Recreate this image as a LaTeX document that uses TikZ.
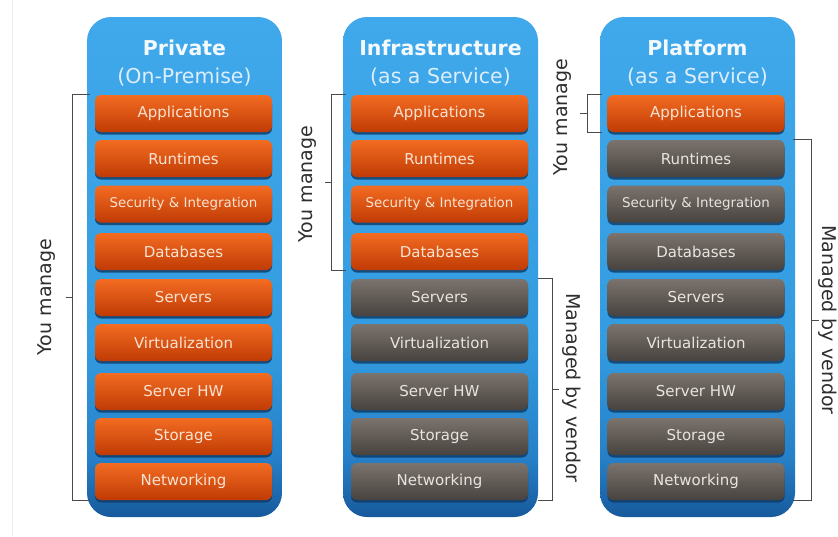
\documentclass[tikz,border=0pt]{standalone}
\usepackage{fontspec}
\setmainfont{DejaVu Sans}
\usetikzlibrary{shadows}
\definecolor{orTop}{HTML}{F36C22}
\definecolor{orBot}{HTML}{C03B05}
\definecolor{orText}{HTML}{FAE3D2}
\definecolor{grTop}{HTML}{7B736D}
\definecolor{grBot}{HTML}{48433F}
\definecolor{grText}{HTML}{E8E4E0}
\definecolor{bTop}{HTML}{40A9EB}
\definecolor{bLight}{HTML}{339BDF}
\definecolor{bMid}{HTML}{2680C8}
\definecolor{bDark}{HTML}{175A9C}
\definecolor{shadowc}{HTML}{0D3A66}
\definecolor{titleText}{HTML}{F3F9FD}
\definecolor{subText}{HTML}{DDEEFA}
\definecolor{lblText}{HTML}{2E2E2E}
\definecolor{brkc}{HTML}{4A4A4A}
\pgfdeclareverticalshading{bluecol}{100bp}{color(0bp)=(bDark); color(25bp)=(bDark); color(31bp)=(bMid); color(42bp)=(bLight); color(75bp)=(bTop); color(100bp)=(bTop)}
\begin{document}
\begin{tikzpicture}[x=1pt,y=-1pt,
  colbox/.style={shade, shading=bluecol, minimum width=195pt, minimum height=500pt, rounded corners=24pt, inner sep=0pt},
  layer/.style={minimum width=177pt, minimum height=37pt, rounded corners=6pt, inner sep=0pt,
    font=\fontsize{15}{15}\selectfont,
    drop shadow={shadow xshift=0pt, shadow yshift=-2.5pt, fill=shadowc, opacity=0.8}},
  obox/.style={layer, top color=orTop, bottom color=orBot, text=orText},
  gbox/.style={layer, top color=grTop, bottom color=grBot, text=grText},
  small/.style={font=\fontsize{13.4}{13.4}\selectfont},
  title/.style={anchor=base, text=titleText, font=\fontsize{20.5}{20.5}\selectfont\bfseries},
  subtitle/.style={anchor=base, text=subText, font=\fontsize{20.5}{20.5}\selectfont},
  brk/.style={draw=brkc, line width=0.8pt},
  lbl/.style={text=lblText, font=\fontsize{19}{19}\selectfont}
]
\useasboundingbox (0,0) rectangle (838,536);
\fill[white] (0,0) rectangle (838,536);
\draw[draw=black!8, line width=0.8pt] (12,0) -- (12,536);

% columns
\node[colbox] (c1) at (184.5,267) {};
\node[colbox] (c2) at (440.5,267) {};
\node[colbox] (c3) at (697.5,267) {};

\node[title] (t1) at (184.5,55) {Private};
\node[subtitle] (s1) at (184.5,83) {(On-Premise)};
\node[title] (t2) at (440.5,55) {Infrastructure};
\node[subtitle] (s2) at (440.5,83) {(as a Service)};
\node[title] (t3) at (697.5,55) {Platform};
\node[subtitle] (s3) at (697.5,83) {(as a Service)};

% column 1
\node[obox] (p1a) at (183.5,113.5) {Applications};
\node[obox] (p1b) at (183.5,158.5) {Runtimes};
\node[obox,small] (p1c) at (183.5,204) {Security \& Integration};
\node[obox] (p1d) at (183.5,251.5) {Databases};
\node[obox] (p1e) at (183.5,297.5) {Servers};
\node[obox] (p1f) at (183.5,342.5) {Virtualization};
\node[obox] (p1g) at (183.5,391.5) {Server HW};
\node[obox] (p1h) at (183.5,436.5) {Storage};
\node[obox] (p1i) at (183.5,481.5) {Networking};

% column 2
\node[obox] (p2a) at (439.5,113.5) {Applications};
\node[obox] (p2b) at (439.5,158.5) {Runtimes};
\node[obox,small] (p2c) at (439.5,204) {Security \& Integration};
\node[obox] (p2d) at (439.5,251.5) {Databases};
\node[gbox] (p2e) at (439.5,297.5) {Servers};
\node[gbox] (p2f) at (439.5,342.5) {Virtualization};
\node[gbox] (p2g) at (439.5,391.5) {Server HW};
\node[gbox] (p2h) at (439.5,436.5) {Storage};
\node[gbox] (p2i) at (439.5,481.5) {Networking};

% column 3
\node[obox] (p3a) at (696,113.5) {Applications};
\node[gbox] (p3b) at (696,158.5) {Runtimes};
\node[gbox,small] (p3c) at (696,204) {Security \& Integration};
\node[gbox] (p3d) at (696,251.5) {Databases};
\node[gbox] (p3e) at (696,297.5) {Servers};
\node[gbox] (p3f) at (696,342.5) {Virtualization};
\node[gbox] (p3g) at (696,391.5) {Server HW};
\node[gbox] (p3h) at (696,436.5) {Storage};
\node[gbox] (p3i) at (696,481.5) {Networking};

% brackets
\draw[brk] ([xshift=-5pt]p1a.north west) -- ++(-17,0) |- ([xshift=-5pt]p1i.south west);
\draw[brk] (73,297.5) -- ++(-7,0);
\node[lbl, rotate=90] (l1) at (47,297) {You manage};

\draw[brk] ([xshift=-5pt]p2a.north west) -- ++(-14,0) |- ([xshift=-5pt]p2d.south west);
\draw[brk] (332,182.5) -- ++(-7,0);
\node[lbl, rotate=90] (l2) at (308,184) {You manage};

\draw[brk] ([xshift=10pt]p2e.north east) -- ++(14,0) |- ([xshift=10pt]p2i.south east);
\draw[brk] (552,389.5) -- ++(7,0);
\node[lbl, rotate=-90] (l3) at (572,388) {Managed by vendor};

\draw[brk] ([xshift=-5pt]p3a.north west) -- ++(-15,0) |- ([xshift=-5pt]p3a.south west);
\draw[brk] (587,113.5) -- ++(-7,0);
\node[lbl, rotate=90] (l4) at (563,117) {You manage};

\draw[brk] ([xshift=8pt]p3b.north east) -- ++(19,0) |- ([xshift=8pt]p3i.south east);
\draw[brk] (812,320) -- ++(7,0);
\node[lbl, rotate=-90] (l5) at (828,320) {Managed by vendor};
\end{tikzpicture}
\end{document}
